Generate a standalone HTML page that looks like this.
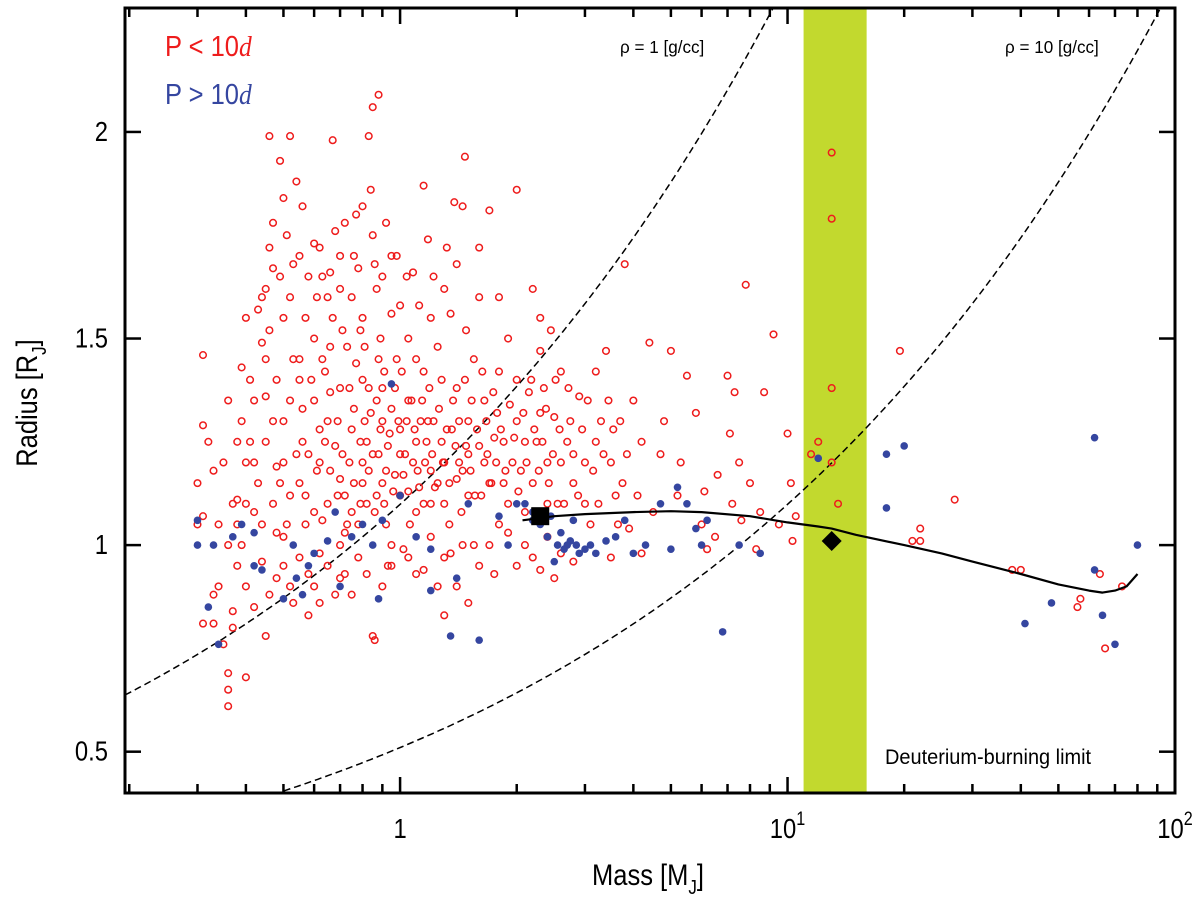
<!DOCTYPE html>
<html><head><meta charset="utf-8">
<style>
html,body{margin:0;padding:0;background:#fff;}
svg{display:block;font-family:"Liberation Sans",sans-serif;}
</style></head>
<body>
<svg id="chart" width="1200" height="902" viewBox="0 0 1200 902">
  <g id="plot"></g>
</svg>
<script>
const xTicksMajor = [1, 10, 100];
const yTicks = [0.5, 1, 1.5, 2];
const yTickLabels = ["0.5", "1", "1.5", "2"];
const densities = [1, 10];
const densityLabels = ["ρ = 1 [g/cc]", "ρ = 10 [g/cc]"];
const deuteriumBand = [11, 16];
const squarePoint = [2.3, 1.07];
const diamondPoint = [13, 1.01];
const curveMass = [2.07,2.5,3,4,5,6,8,10,12,13,15,20,25,30,40,50,60,65,70,75,80];
const curveRadius = [1.06,1.07,1.075,1.08,1.082,1.08,1.07,1.055,1.045,1.04,1.025,1.0,0.98,0.96,0.93,0.905,0.89,0.885,0.89,0.9,0.93];
const redPoints = [[0.31,1.46],[0.31,1.29],[0.3,1.05],[0.31,1.07],[0.31,0.81],[0.33,0.81],[0.34,0.9],[0.35,0.76],[0.36,0.65],[0.36,0.61],[0.36,0.69],[0.37,0.84],[0.37,0.8],[0.38,0.95],[0.38,1.11],[0.39,1.3],[0.39,1.43],[0.4,1.55],[0.4,1.1],[0.41,1.25],[0.42,1.2],[0.42,1.08],[0.43,1.57],[0.44,1.49],[0.45,1.62],[0.45,1.36],[0.46,1.99],[0.46,1.72],[0.47,1.67],[0.48,1.4],[0.48,1.19],[0.48,1.03],[0.49,1.93],[0.5,1.84],[0.5,1.55],[0.5,1.3],[0.5,0.95],[0.52,1.99],[0.52,1.6],[0.52,1.12],[0.53,0.86],[0.54,1.88],[0.55,1.7],[0.55,1.45],[0.56,1.25],[0.57,1.05],[0.58,0.93],[0.6,1.73],[0.6,1.5],[0.6,1.35],[0.62,1.2],[0.62,0.98],[0.63,1.65],[0.64,1.42],[0.65,1.3],[0.65,1.1],[0.67,1.98],[0.67,1.55],[0.68,1.76],[0.7,1.62],[0.7,1.38],[0.7,1.16],[0.7,1.0],[0.72,0.93],[0.73,1.48],[0.75,1.28],[0.75,1.08],[0.77,1.8],[0.78,1.67],[0.79,1.52],[0.8,1.4],[0.8,1.2],[0.82,1.1],[0.83,1.99],[0.84,1.86],[0.85,1.75],[0.85,2.06],[0.86,0.77],[0.87,1.62],[0.88,2.09],[0.88,1.45],[0.9,1.3],[0.9,1.15],[0.92,1.05],[0.93,0.95],[0.95,1.7],[0.95,1.56],[0.97,1.38],[1.0,1.28],[1.0,1.22],[1.0,1.12],[1.02,0.99],[1.04,1.65],[1.05,1.5],[1.05,1.35],[1.08,1.2],[1.1,1.08],[1.1,0.93],[1.12,1.58],[1.15,1.87],[1.15,1.42],[1.18,1.3],[1.2,1.18],[1.2,1.02],[1.22,1.65],[1.25,1.48],[1.28,1.25],[1.3,1.1],[1.3,0.97],[1.32,1.72],[1.35,1.56],[1.38,1.83],[1.4,1.38],[1.42,1.2],[1.45,1.82],[1.47,1.94],[1.48,1.52],[1.5,1.3],[1.5,1.12],[1.55,1.0],[1.55,1.45],[1.6,1.6],[1.65,1.35],[1.65,1.2],[1.7,1.81],[1.75,1.26],[1.8,1.05],[1.8,1.42],[1.85,1.15],[1.9,1.5],[2.0,1.86],[2.0,1.3],[2.05,1.18],[2.1,1.08],[2.15,1.37],[2.2,1.62],[2.25,1.25],[2.3,1.47],[2.35,1.38],[2.4,1.2],[2.45,1.52],[2.5,1.31],[2.55,1.1],[2.6,1.42],[2.7,1.25],[2.8,1.15],[2.9,1.36],[3.0,1.2],[3.1,1.05],[3.2,1.42],[3.3,1.3],[3.4,1.47],[3.5,1.2],[3.6,1.12],[3.7,1.3],[3.8,1.68],[3.9,1.04],[4.0,1.35],[4.2,1.25],[4.4,1.49],[4.7,1.22],[5.0,1.47],[5.2,1.12],[5.5,1.41],[5.8,1.32],[6.0,1.05],[6.2,0.99],[6.5,1.02],[7.0,1.41],[7.1,1.27],[7.3,1.37],[7.5,1.2],[7.8,1.63],[8.0,1.15],[8.3,0.99],[8.7,1.37],[9.2,1.51],[10,1.27],[10.2,1.15],[10.3,1.01],[11.5,1.22],[12,1.25],[13,1.95],[13,1.79],[13,1.38],[13,1.2],[13.5,1.1],[19.5,1.47],[21,1.01],[22,1.04],[22,1.01],[27,1.11],[40,0.94],[38,0.94],[56,0.85],[57,0.87],[64,0.93],[66,0.75],[73,0.9],[2.3,0.94],[2.5,0.92],[2.8,0.96],[3.5,0.97],[4.2,0.98],[1.3,0.83],[1.5,0.86],[0.85,0.78],[0.58,0.83],[0.45,0.78],[0.4,0.68],[0.33,0.88],[0.95,1.0],[1.7,1.0],[2.0,0.95],[1.4,0.9],[0.75,0.88],[0.68,0.88],[0.52,0.9],[0.55,1.15],[0.58,1.22],[0.6,1.08],[0.62,1.28],[0.66,1.18],[0.68,1.24],[0.72,1.12],[0.74,1.2],[0.76,1.33],[0.78,1.05],[0.8,1.15],[0.82,1.25],[0.84,1.32],[0.86,1.08],[0.88,1.22],[0.9,1.38],[0.92,1.18],[0.94,1.27],[0.96,1.13],[0.98,1.45],[1.02,1.17],[1.04,1.3],[1.06,1.05],[1.1,1.25],[1.12,1.14],[1.14,1.35],[1.16,1.2],[1.2,1.1],[1.22,1.3],[1.25,1.15],[1.28,1.4],[1.3,1.2],[1.34,1.05],[1.36,1.28],[1.4,1.16],[1.44,1.08],[1.48,1.24],[1.52,1.18],[1.58,1.28],[1.62,1.12],[1.68,1.22],[1.72,1.15],[1.78,1.32],[1.85,1.25],[1.9,1.1],[1.95,1.2],[2.0,1.4],[2.1,1.25],[2.2,1.15],[2.3,1.32],[2.4,1.1],[2.6,1.2],[2.75,1.3],[3.0,1.1],[3.2,1.25],[0.45,1.25],[0.47,1.1],[0.5,1.2],[0.52,1.35],[0.55,1.4],[0.57,1.55],[0.63,1.45],[0.65,1.6],[0.7,1.7],[0.75,1.6],[0.8,1.55],[0.9,1.65],[1.0,1.58],[1.1,1.45],[1.2,1.55],[0.4,1.2],[0.42,1.35],[0.44,1.05],[0.36,1.0],[0.38,1.05],
[0.45,1.45],[0.47,1.3],[0.49,1.15],[0.51,1.05],[0.53,1.45],[0.54,1.22],[0.56,1.33],[0.57,1.12],[0.59,1.4],[0.61,1.18],[0.61,1.6],[0.63,1.06],[0.64,1.25],[0.66,1.37],[0.66,1.48],[0.69,1.12],[0.69,1.3],[0.71,1.22],[0.71,1.52],[0.73,1.05],[0.74,1.38],[0.76,1.15],[0.77,1.44],[0.79,1.25],[0.79,1.1],[0.81,1.3],[0.81,1.48],[0.83,1.18],[0.83,1.38],[0.85,1.22],[0.87,1.12],[0.87,1.35],[0.89,1.28],[0.89,1.5],[0.91,1.1],[0.91,1.42],[0.93,1.24],[0.95,1.33],[0.97,1.17],[0.99,1.3],[1.01,1.42],[1.03,1.22],[1.05,1.13],[1.07,1.35],[1.09,1.28],[1.11,1.18],[1.13,1.3],[1.15,1.1],[1.17,1.25],[1.19,1.38],[1.21,1.22],[1.23,1.14],[1.26,1.33],[1.29,1.2],[1.32,1.28],[1.34,1.15],[1.37,1.35],[1.39,1.24],[1.42,1.3],[1.45,1.18],[1.47,1.4],[1.5,1.22],[1.53,1.35],[1.56,1.12],[1.6,1.24],[1.63,1.42],[1.67,1.3],[1.7,1.15],[1.74,1.37],[1.77,1.2],[1.82,1.28],[1.87,1.18],[1.92,1.34],[1.97,1.26],[2.02,1.13],[2.08,1.32],[2.12,1.2],[2.18,1.4],[2.22,1.28],[2.28,1.18],[2.33,1.25],[2.38,1.33],[2.42,1.15],[2.48,1.22],[2.52,1.4],[2.58,1.28],[2.65,1.1],[2.72,1.38],[2.8,1.22],[2.88,1.12],[2.95,1.28],[3.05,1.35],[3.15,1.18],[3.25,1.1],[3.35,1.22],[3.45,1.35],[3.55,1.28],[3.65,1.05],[3.75,1.15],[3.85,1.22],[4.1,1.12],[4.5,1.08],[4.8,1.3],[5.3,1.2],[6.1,1.13],[6.6,1.17],[7.2,1.1],[7.6,1.06],[8.5,1.08],[9.5,1.05],[10.5,1.07],[0.4,0.9],[0.42,0.85],[0.44,0.96],[0.46,0.88],[0.48,0.92],[0.5,1.02],[0.55,0.97],[0.6,0.9],[0.62,0.86],[0.65,0.95],[0.7,0.92],[0.72,1.03],[0.78,0.97],[0.82,0.93],[0.9,0.9],[0.95,0.95],[1.05,0.97],[1.15,0.94],[1.25,0.9],[1.35,0.98],[1.45,1.0],[1.6,0.95],[1.75,0.93],[1.9,1.03],[2.1,1.0],[2.2,0.97],[2.4,1.02],[2.6,0.98],[0.35,1.2],[0.36,1.35],[0.37,1.1],[0.38,1.25],[0.39,1.0],[0.41,1.4],[0.43,1.15],[0.44,1.6],[0.46,1.52],[0.47,1.78],[0.49,1.65],[0.51,1.75],[0.53,1.68],[0.56,1.82],[0.58,1.65],[0.62,1.72],[0.66,1.66],[0.72,1.78],[0.76,1.7],[0.8,1.82],[0.86,1.68],[0.92,1.78],[0.98,1.7],[1.08,1.66],[1.18,1.74],[1.3,1.62],[1.4,1.68],[1.6,1.72],[1.8,1.6],[2.3,1.55],[0.3,1.15],[0.32,1.25],[0.34,1.05],[0.33,1.18]];
const bluePoints = [[0.3,1.0],[0.3,1.06],[0.32,0.85],[0.33,1.0],[0.34,0.76],[0.37,1.02],[0.39,1.05],[0.42,1.03],[0.42,0.95],[0.44,0.94],[0.5,0.87],[0.53,1.0],[0.54,0.92],[0.56,0.88],[0.58,0.95],[0.6,0.98],[0.65,1.01],[0.68,1.08],[0.75,1.02],[0.8,1.05],[0.85,1.0],[0.88,0.87],[0.95,1.39],[1.0,1.12],[1.2,0.99],[1.35,0.78],[1.4,0.92],[1.6,0.77],[1.8,1.07],[1.9,1.0],[2.0,1.1],[2.1,1.1],[2.2,1.06],[2.3,1.05],[2.5,0.96],[2.6,1.03],[2.7,1.0],[2.75,1.01],[2.85,1.0],[3.0,0.99],[3.2,0.98],[3.4,1.01],[3.6,1.02],[3.8,1.06],[4.0,0.98],[4.3,1.0],[4.7,1.1],[5.0,0.99],[5.2,1.14],[5.5,1.1],[5.8,1.04],[6.0,1.0],[6.2,1.06],[6.8,0.79],[7.5,1.0],[8.5,0.98],[12,1.21],[18,1.22],[18,1.09],[20,1.24],[41,0.81],[48,0.86],[62,1.26],[62,0.94],[65,0.83],[70,0.76],[80,1.0],[2.4,1.02],[2.8,1.06],[1.2,0.89],[0.7,0.9],[2.55,1.0],[2.65,0.99],[2.9,0.98],[3.1,1.0],[2.45,1.07],[2.2,1.08],[1.5,1.1],[1.1,1.02],[0.9,1.06]];

const NS = "http://www.w3.org/2000/svg";
const L = 125, R = 1175, T = 8, B = 793;
const xMin = 0.195, xMax = 100, yMin = 0.4, yMax = 2.3;
const X = m => L + (Math.log10(m) - Math.log10(xMin)) / (Math.log10(xMax) - Math.log10(xMin)) * (R - L);
const Y = r => B - (r - yMin) / (yMax - yMin) * (B - T);
const svg = document.getElementById("chart");
const plot = document.getElementById("plot");
function mk(tag, attrs, parent) {
  const e = document.createElementNS(NS, tag);
  for (const k in attrs) e.setAttribute(k, attrs[k]);
  (parent || svg).appendChild(e);
  return e;
}
const defs = mk("defs", {});
const cp = mk("clipPath", {id: "clip"}, defs);
mk("rect", {x: L, y: T, width: R - L, height: B - T}, cp);
plot.setAttribute("clip-path", "url(#clip)");

const band = mk("rect", {x: X(deuteriumBand[0]), y: T, width: X(deuteriumBand[1]) - X(deuteriumBand[0]), height: B - T, fill: "#c2d92e"}, plot);



densities.forEach((rho, i) => {
  let d = "";
  for (let k = 0; k <= 300; k++) {
    const lm = Math.log10(xMin) + k / 300 * (Math.log10(xMax) - Math.log10(xMin));
    const m = Math.pow(10, lm);
    const r = Math.cbrt(m * 1.326 / rho);
    d += (k ? "L" : "M") + X(m).toFixed(1) + "," + Y(r).toFixed(1);
  }
  const p = mk("path", {d, fill: "none", stroke: "#000", "stroke-width": 1.5, "stroke-dasharray": "7,4"}, plot);
  
  
});

redPoints.forEach(p => {
  const c = mk("circle", {cx: X(p[0]), cy: Y(p[1]), r: 3.3, fill: "none", stroke: "#ee1c1c", "stroke-width": 1.5}, plot);
  
  
});
bluePoints.forEach(p => {
  const c = mk("circle", {cx: X(p[0]), cy: Y(p[1]), r: 3.8, fill: "#3546a0"}, plot);
  
  
});

let cd = "";
curveMass.forEach((m, i) => { cd += (i ? "L" : "M") + X(m).toFixed(1) + "," + Y(curveRadius[i]).toFixed(1); });
const cv = mk("path", {d: cd, fill: "none", stroke: "#000", "stroke-width": 2.2, "stroke-linejoin": "round"}, plot);



const sq = mk("rect", {x: X(squarePoint[0]) - 9, y: Y(squarePoint[1]) - 9, width: 18, height: 18, fill: "#000"}, plot);


const dx = X(diamondPoint[0]), dy = Y(diamondPoint[1]);
const dm = mk("polygon", {points: `${dx},${dy-10} ${dx+10},${dy} ${dx},${dy+10} ${dx-10},${dy}`, fill: "#000"}, plot);



const fr = mk("rect", {x: L, y: T, width: R - L, height: B - T, fill: "none", stroke: "#000", "stroke-width": 3});



for (let dec = -1; dec <= 1; dec++) {
  for (let k = 1; k <= 9; k++) {
    const m = k * Math.pow(10, dec);
    if (m < xMin || m > xMax) continue;
    const len = k === 1 ? 16 : 9;
    const x = X(m);
    const t1 = mk("line", {x1: x, y1: B, x2: x, y2: B - len, stroke: "#000", "stroke-width": 2.5});
    
    
    const t2 = mk("line", {x1: x, y1: T, x2: x, y2: T + len, stroke: "#000", "stroke-width": 2.5});
    
    
  }
}
xTicksMajor.forEach(m => {
  const x = X(m);
  const t = mk("text", {x: x, y: 838, "font-size": 28, "text-anchor": "middle", transform: `translate(${x},0) scale(0.85,1) translate(${-x},0)`});
  if (m === 1) t.textContent = "1";
  else {
    t.textContent = "10";
    const s = mk("tspan", {dy: -13, "font-size": 19}, t);
    s.textContent = m === 10 ? "1" : "2";
  }
  
  
});
yTicks.forEach((v, i) => {
  const y = Y(v);
  const a = mk("line", {x1: L, y1: y, x2: L + 16, y2: y, stroke: "#000", "stroke-width": 2.5});
  
  
  const b = mk("line", {x1: R, y1: y, x2: R - 16, y2: y, stroke: "#000", "stroke-width": 2.5});
  
  
  const t = mk("text", {x: 108, y: y + 9, "font-size": 28, "text-anchor": "end", transform: `translate(108,0) scale(0.85,1) translate(-108,0)`});
  t.textContent = yTickLabels[i];
  
  
});

const xt = mk("text", {x: 0, y: 0, "font-size": 30, "text-anchor": "middle", transform: "translate(648,885) scale(0.85,1)"});
xt.innerHTML = 'Mass [M<tspan dy="9" font-size="20">J</tspan><tspan dy="-9">]</tspan>';


const yt = mk("text", {x: 0, y: 0, "font-size": 30, "text-anchor": "middle", transform: "translate(37,403) rotate(-90) scale(0.85,1)"});
yt.innerHTML = 'Radius [R<tspan dy="9" font-size="20">J</tspan><tspan dy="-9">]</tspan>';



[[620, 53], [1005, 53]].forEach((pos, i) => {
  const t = mk("text", {x: 0, y: 0, "font-size": 18, transform: `translate(${pos[0]},${pos[1]}) scale(0.95,1)`});
  t.textContent = densityLabels[i];
  
  
});
const dl = mk("text", {x: 0, y: 0, "font-size": 21, transform: "translate(885,764) scale(0.95,1)"});
dl.textContent = "Deuterium-burning limit";



const l1 = mk("text", {x: 0, y: 0, "font-size": 29, fill: "#ee1c1c", transform: "translate(165,56) scale(0.88,1)"});
l1.innerHTML = 'P &lt; 10<tspan font-family="Liberation Serif" font-style="italic">d</tspan>';


const l2 = mk("text", {x: 0, y: 0, "font-size": 29, fill: "#3546a0", transform: "translate(165,104) scale(0.88,1)"});
l2.innerHTML = 'P &gt; 10<tspan font-family="Liberation Serif" font-style="italic">d</tspan>';


</script>
</body></html>
